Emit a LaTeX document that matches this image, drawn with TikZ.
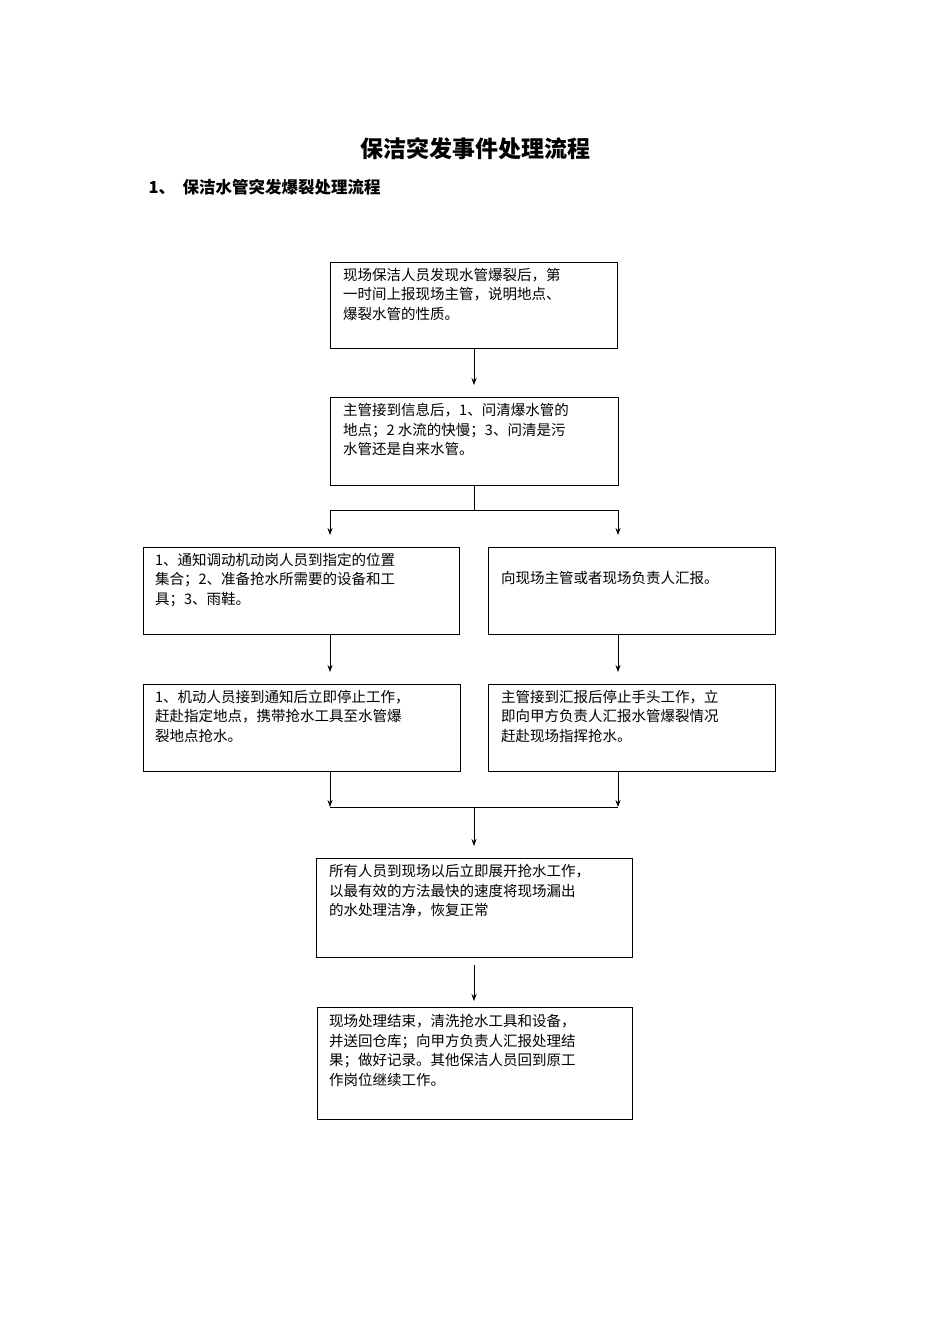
\documentclass[tikz,border=0pt]{standalone}
\usepackage{fontspec}
\setmainfont{Noto Sans CJK SC}
\usetikzlibrary{arrows.meta}
\begin{document}
\begin{tikzpicture}[x=1pt,y=-1pt,
  box/.style={draw,line width=0.8pt},
  txt/.style={anchor=north west,align=left,inner sep=0pt,font=\fontsize{14.5}{19.5}\selectfont},
  arr/.style={-{Stealth[length=7pt,width=5pt]},line width=0.8pt},
  ln/.style={line width=0.8pt}]
\useasboundingbox (0,0) rectangle (950,1344);
\node[font=\fontsize{23}{26}\selectfont\bfseries] (title) at (475,149) {保洁突发事件处理流程};
\node[anchor=west,font=\fontsize{16.5}{20}\selectfont\bfseries] (sub) at (145,187) {1、\ \ 保洁水管突发爆裂处理流程};
\draw[box] (330,262) rectangle (617,348) coordinate (b1se);
\node[txt] (t1) at (343,268) {现场保洁人员发现水管爆裂后，第\\一时间上报现场主管，说明地点、\\爆裂水管的性质。};
\draw[box] (330,397) rectangle (618,485);
\node[txt] (t2) at (343,403) {主管接到信息后，1、问清爆水管的\\地点；2 水流的快慢；3、问清是污\\水管还是自来水管。};
\draw[box] (143,547) rectangle (459,634);
\node[txt] (t3) at (155,553) {1、通知调动机动岗人员到指定的位置\\集合；2、准备抢水所需要的设备和工\\具；3、雨鞋。};
\draw[box] (488,547) rectangle (775,634);
\node[txt] (t4) at (501,571) {向现场主管或者现场负责人汇报。};
\draw[box] (143,684) rectangle (460,771);
\node[txt] (t5) at (155,690) {1、机动人员接到通知后立即停止工作，\\赶赴指定地点，携带抢水工具至水管爆\\裂地点抢水。};
\draw[box] (488,684) rectangle (775,771);
\node[txt] (t6) at (501,690) {主管接到汇报后停止手头工作，立\\即向甲方负责人汇报水管爆裂情况\\赶赴现场指挥抢水。};
\draw[box] (316,858) rectangle (632,957);
\node[txt] (t7) at (329,864) {所有人员到现场以后立即展开抢水工作，\\以最有效的方法最快的速度将现场漏出\\的水处理洁净，恢复正常};
\draw[box] (317,1007) rectangle (632,1119);
\node[txt] (t8) at (329,1014) {现场处理结束，清洗抢水工具和设备，\\并送回仓库；向甲方负责人汇报处理结\\果；做好记录。其他保洁人员回到原工\\作岗位继续工作。};
\coordinate (a1) at (474,348); \coordinate (a2) at (474,385);
\draw[arr] (a1) -- (a2);
\coordinate (c1) at (474,485); \coordinate (c2) at (474,510);
\coordinate (cl) at (330,510); \coordinate (cr) at (618,510);
\coordinate (clb) at (330,535); \coordinate (crb) at (618,535);
\draw[ln] (c1) -- (c2) (cl) -- (cr);
\draw[arr] (cl) -- (clb); \draw[arr] (cr) -- (crb);
\coordinate (d1) at (330,634); \coordinate (d2) at (330,672);
\coordinate (e1) at (618,634); \coordinate (e2) at (618,672);
\draw[arr] (d1) -- (d2); \draw[arr] (e1) -- (e2);
\coordinate (f1) at (330,771); \coordinate (f2) at (330,807);
\coordinate (g1) at (618,771); \coordinate (g2) at (618,807);
\draw[arr] (f1) -- (f2); \draw[arr] (g1) -- (g2);
\coordinate (h1) at (330,807); \coordinate (h2) at (618,807);
\draw[ln] (h1) -- (h2);
\coordinate (m1) at (474,807); \coordinate (m2) at (474,846);
\draw[arr] (m1) -- (m2);
\coordinate (n1) at (474,965); \coordinate (n2) at (474,1001);
\draw[arr] (n1) -- (n2);
\end{tikzpicture}
\end{document}
